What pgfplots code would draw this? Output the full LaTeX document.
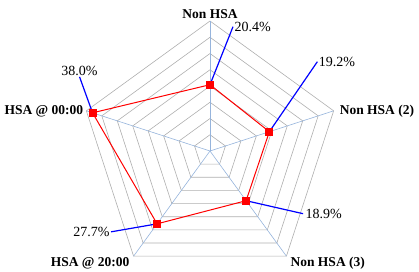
\documentclass[border=0pt]{standalone}
\usepackage{pgfplots}
\pgfplotsset{compat=1.18}
\usepgfplotslibrary{polar}
\usepackage{fontspec}
\setmainfont{Liberation Serif}
\definecolor{ringgray}{RGB}{175,175,175}
\definecolor{spokeblue}{RGB}{150,180,220}
\begin{document}
\begin{tikzpicture}
\begin{polaraxis}[hide axis, scale only axis, width=260pt, height=260pt,
  ymin=0, ymax=40, clip=false]
% rings
\addplot[ringgray, line width=0.6pt, no marks] coordinates {(90,5)(18,5)(-54,5)(-126,5)(162,5)(90,5)};
\addplot[ringgray, line width=0.6pt, no marks] coordinates {(90,10)(18,10)(-54,10)(-126,10)(162,10)(90,10)};
\addplot[ringgray, line width=0.6pt, no marks] coordinates {(90,15)(18,15)(-54,15)(-126,15)(162,15)(90,15)};
\addplot[ringgray, line width=0.6pt, no marks] coordinates {(90,20)(18,20)(-54,20)(-126,20)(162,20)(90,20)};
\addplot[ringgray, line width=0.6pt, no marks] coordinates {(90,25)(18,25)(-54,25)(-126,25)(162,25)(90,25)};
\addplot[ringgray, line width=0.6pt, no marks] coordinates {(90,30)(18,30)(-54,30)(-126,30)(162,30)(90,30)};
\addplot[ringgray, line width=0.6pt, no marks] coordinates {(90,35)(18,35)(-54,35)(-126,35)(162,35)(90,35)};
\addplot[ringgray, line width=0.6pt, no marks] coordinates {(90,40)(18,40)(-54,40)(-126,40)(162,40)(90,40)};
% spokes
\addplot[spokeblue, line width=0.6pt, no marks] coordinates {(90,0)(90,40)};
\addplot[spokeblue, line width=0.6pt, no marks] coordinates {(18,0)(18,40)};
\addplot[spokeblue, line width=0.6pt, no marks] coordinates {(-54,0)(-54,40)};
\addplot[spokeblue, line width=0.6pt, no marks] coordinates {(-126,0)(-126,40)};
\addplot[spokeblue, line width=0.6pt, no marks] coordinates {(162,0)(162,40)};
% data
\addplot[red, line width=1pt, mark=square*, mark size=3.5pt, mark options={fill=red, draw=red}]
  coordinates {(90,20.4)(18,19.2)(-54,18.9)(-126,27.7)(162,38.0)(90,20.4)};
% leader lines and value labels
\tikzset{val/.style={black, font=\fontsize{14}{16}\selectfont}, cat/.style={font=\fontsize{13.5}{16}\selectfont\bfseries}}
\draw[blue, line width=1.2pt] (axis cs:90,20.4) -- ++(23pt,58pt) node[anchor=west, val, inner sep=1pt] {20.4\%};
\draw[blue, line width=1.2pt] (axis cs:18,19.2) -- ++(48pt,70pt) node[anchor=west, val, inner sep=1pt] {19.2\%};
\draw[blue, line width=1.2pt] (axis cs:-54,18.9) -- ++(57pt,-13pt) node[anchor=west, val, inner sep=2pt] {18.9\%};
\draw[blue, line width=1.2pt] (axis cs:-126,27.7) -- ++(-46pt,-8pt) node[anchor=east, val, inner sep=1pt] {27.7\%};
\draw[blue, line width=1.2pt] (axis cs:162,38.0) -- ++(-13pt,36pt) node[anchor=south, val, inner sep=1pt] {38.0\%};
% category labels
\node[anchor=south, cat, inner sep=2pt] at (axis cs:90,40) {Non HSA};
\node[anchor=west, cat, inner sep=6pt] at (axis cs:18,40) {Non HSA (2)};
\node[anchor=north west, cat, inner sep=1pt, xshift=3pt] at (axis cs:-54,40) {Non HSA (3)};
\node[anchor=north east, cat, inner sep=1pt, xshift=-3pt] at (axis cs:-126,40) {HSA @ 20:00};
\node[anchor=east, cat, inner sep=3pt] at (axis cs:162,40) {HSA @ 00:00};
\coordinate (c) at (axis cs:0,0);
\end{polaraxis}
\pgfresetboundingbox
\path (c) ++(-210pt,151pt) rectangle ++(419pt,-271pt);
\end{tikzpicture}
\end{document}
